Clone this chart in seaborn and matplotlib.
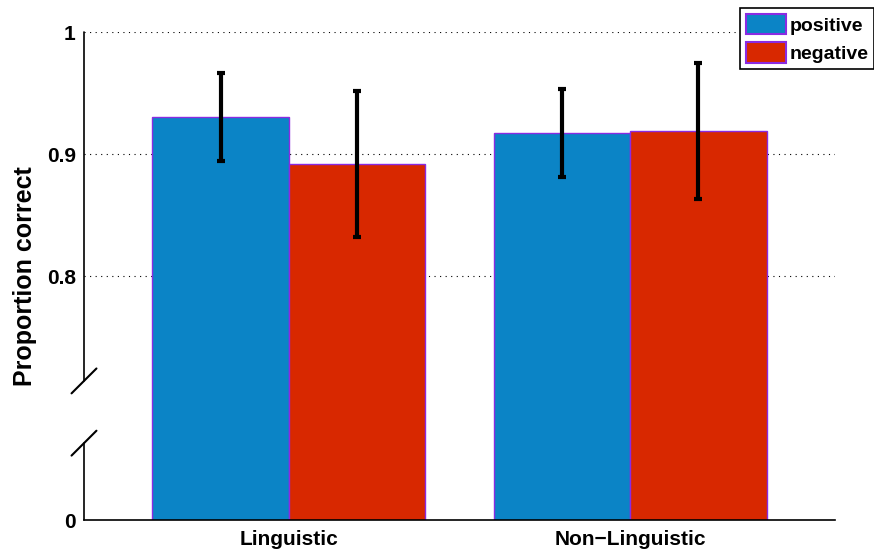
import matplotlib
matplotlib.use("Agg")
import matplotlib.pyplot as plt
import matplotlib.transforms as mtransforms
from matplotlib.patches import Patch
import pandas as pd
import seaborn as sns

# data
groups = ["Linguistic", "Linguistic", "Non\u2212Linguistic", "Non\u2212Linguistic"]
valence = ["positive", "negative", "positive", "negative"]
prop_correct = [0.930, 0.892, 0.917, 0.919]
err = [0.036, 0.060, 0.036, 0.056]
ytick_vals = [0.6, 0.8, 0.9, 1.0]
ytick_labels = ["0", "0.8", "0.9", "1"]

colors = {"positive": "#0b84c6", "negative": "#d82800"}
edge = "#8a2be2"

df = pd.DataFrame({"group": groups, "valence": valence,
                   "value": prop_correct, "err": err})

sns.set_style("white")
plt.rcParams["font.family"] = ["Liberation Sans", "DejaVu Sans"]
plt.rcParams["font.weight"] = "bold"
plt.rcParams["text.color"] = "black"
plt.rcParams["axes.labelcolor"] = "black"
plt.rcParams["xtick.color"] = "black"
plt.rcParams["ytick.color"] = "black"

fig = plt.figure(figsize=(8.74, 5.52), dpi=100)
ax = fig.add_axes([84/874, 1-520/552, (835-84)/874, (520-32)/552])

sns.barplot(data=df, x="group", y="value", hue="valence",
            hue_order=["positive", "negative"], palette=colors,
            errorbar=None, width=0.8, edgecolor=edge, linewidth=1.0,
            saturation=1, legend=False, ax=ax)

# error bars on each bar
for cont, lvl in zip(ax.containers, ["positive", "negative"]):
    sub = df[df.valence == lvl]
    for bar, v, e in zip(cont.patches, sub.value, sub.err):
        xc = bar.get_x() + bar.get_width() / 2
        ax.errorbar(xc, v, yerr=e, color="black", lw=3, capsize=3,
                    capthick=3, zorder=5)

ax.set_xlim(-0.6, 1.6)
ax.set_ylim(0.6, 1.0)
ax.set_yticks(ytick_vals)
ax.set_yticklabels(ytick_labels, fontsize=15, fontweight="bold")
ax.tick_params(axis="y", direction="in", length=5, width=1, pad=6)
ax.tick_params(axis="x", length=0, labelsize=15, pad=7)
for lab in ax.get_xticklabels():
    lab.set_fontweight("bold")
ax.set_xlabel("")
ax.set_ylabel("Proportion correct", fontsize=18, fontweight="bold", labelpad=7)

# dotted grid at the real ticks
for yv in ytick_vals[1:]:
    ax.axhline(yv, color="black", lw=0.8, ls=(0, (1, 4)), zorder=0)

for s in ["top", "right", "left"]:
    ax.spines[s].set_visible(False)
ax.spines["bottom"].set_linewidth(1.2)
ax.spines["bottom"].set_color("black")

# broken left axis
trans = mtransforms.blended_transform_factory(ax.transAxes, ax.transData)
ax.plot([0, 0], [0.714, 1.0], transform=trans, color="black", lw=1.2, clip_on=False)
ax.plot([0, 0], [0.6, 0.663], transform=trans, color="black", lw=1.2, clip_on=False)
dx, dy = 0.0166, 0.0102
for yb in [0.714, 0.663]:
    ax.plot([-dx, dx], [yb - dy, yb + dy], transform=trans, color="black",
            lw=1.5, clip_on=False)

handles = [Patch(facecolor=colors[k], edgecolor=edge, lw=1.5, label=k)
           for k in ["positive", "negative"]]
leg = fig.legend(handles=handles, loc="upper left", bbox_to_anchor=(740/874, 1-8/552),
                 fancybox=False, frameon=True, edgecolor="black", framealpha=1,
                 prop={"weight": "bold", "size": 14}, handlelength=2.05,
                 handleheight=1.25, handletextpad=0.2, labelspacing=0.4,
                 borderpad=0.3, borderaxespad=0)
leg.get_frame().set_linewidth(1.2)

fig.savefig("out.png", dpi=100)
